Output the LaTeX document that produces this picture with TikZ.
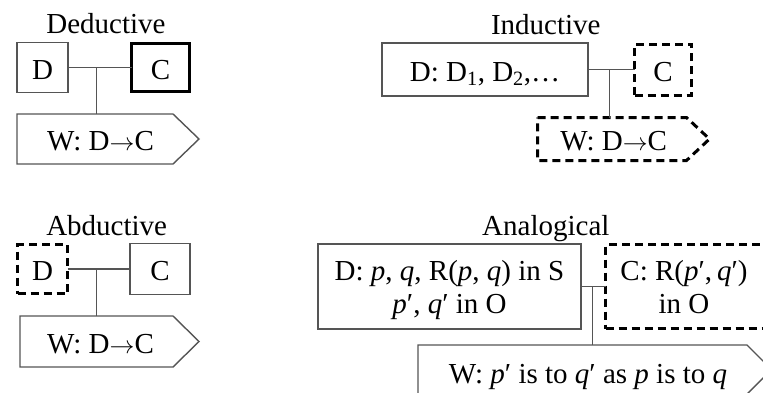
\documentclass[tikz,border=0pt]{standalone}
\usepackage{fontspec}
\setmainfont{Liberation Serif}
\usetikzlibrary{calc}
\definecolor{lc}{HTML}{555555}
\newcommand{\rarr}{$\rightarrow$}
\tikzset{
  txt/.style={font=\fontsize{29}{33}\selectfont, inner sep=0pt, outer sep=0pt, text height=23pt, text depth=0pt},
  thinbox/.style={txt, draw=lc, line width=1.4pt, rectangle},
  thickbox/.style={txt, draw=black, line width=3pt, rectangle},
  dashbox/.style={txt, draw=black, line width=3pt, dash pattern=on 8pt off 5pt, rectangle},
  wtext/.style={txt, rectangle},
  twoline/.style={align=center, text height=55pt, text depth=2pt},
  link/.style={draw=lc, line width=1.4pt},
  thinpent/.style={draw=lc, line width=1.4pt, line join=miter},
  dashpent/.style={draw=black, line width=3pt, dash pattern=on 8pt off 5pt},
  title/.style={font=\fontsize{29}{33}\selectfont, inner sep=0pt, anchor=base},
}
\begin{document}
\begin{tikzpicture}[x=1pt,y=-1pt]
\useasboundingbox (0,0) rectangle (763,392);
\clip (0,0) rectangle (763,392);

% ---------------- Deductive ----------------
\node[title] (dT) at (106,33.3) {Deductive};
\node[thinbox, minimum width=51, minimum height=50] (dD) at (42.5,67.5) {D};
\node[thickbox, minimum width=58, minimum height=48] (dC) at (160.5,67.5) {C};
\node[wtext, minimum width=167, minimum height=50] (dW) at (100.5,139) {W: D\rarr C};
\draw[thinpent] (dW.north west) -- ++(156,0) -- ++(26,25) -- ++(-26,25) -- (dW.south west) -- cycle;
\draw[link] (dD.east) -- (dC.west);
\coordinate (dJ) at ($(dD.east)!0.45!(dC.west)$);
\draw[link] (dJ) -- (dJ |- dW.north);

% ---------------- Inductive ----------------
\node[title] (iT) at (545.8,34) {Inductive};
\node[thinbox, minimum width=206, minimum height=53] (iD) at (485,69.5) {D: D\textsubscript{1}, D\textsubscript{2},…};
\node[dashbox, minimum width=57, minimum height=51] (iC) at (663,69.5) {C};
\node[wtext, minimum width=152.4, minimum height=43] (iW) at (613.7,139) {W: D\rarr C};
\draw[dashpent] (iW.north west) -- ++(149,0) -- ++(23,21.5) -- ++(-23,21.5) -- (iW.south west) -- cycle;
\draw[link] (iD.east) -- (iC.west);
\coordinate (iJ) at ($(iD.east)!0.46!(iC.west)$);
\draw[link] (iJ) -- (iJ |- iW.north);

% ---------------- Abductive ----------------
\node[title] (bT) at (106.7,235) {Abductive};
\node[dashbox, minimum width=50, minimum height=49] (bD) at (42.5,269) {D};
\node[thinbox, minimum width=60, minimum height=51] (bC) at (160,269) {C};
\node[wtext, minimum width=161, minimum height=51] (bW) at (100.5,341.5) {W: D\rarr C};
\draw[thinpent] (bW.north west) -- ++(153,0) -- ++(26,25.5) -- ++(-26,25.5) -- (bW.south west) -- cycle;
\draw[link] (bD.east) -- (bC.west);
\coordinate (bJ) at ($(bD.east)!0.46!(bC.west)$);
\draw[link] (bJ) -- (bJ |- bW.north);

% ---------------- Analogical ----------------
\node[title] (aT) at (545.8,235) {Analogical};
\node[thinbox, twoline, minimum width=263, minimum height=85] (aD) at (449.5,286.5)
  {D: \textit{p}, \textit{q}, R(\textit{p}, \textit{q}) in S\\\textit{p}′, \textit{q}′ in O};
\node[dashbox, minimum width=184.5, minimum height=84] (aC) at (697.75,286.5) {};
\node[txt, twoline] (aCt) at (684,286.5)
  {C: R(\textit{p}′,\,\textit{q}′)\\in O};
\node[wtext, minimum width=340, minimum height=49, text height=27pt] (aW) at (588,369.5)
  {W: \textit{p}′ is to \textit{q}′ as \textit{p} is to \textit{q}};
\draw[thinpent] (aW.north west) -- ++(329,0) -- ++(24.5,24.5) -- ++(-24.5,24.5) -- (aW.south west) -- cycle;
\draw[link] (aD.east) -- (aD.east -| aC.west);
\coordinate (aJ) at ($(aD.east)!0.48!(aD.east -| aC.west)$);
\draw[link] (aJ) -- (aJ |- aW.north);
\end{tikzpicture}
\end{document}
